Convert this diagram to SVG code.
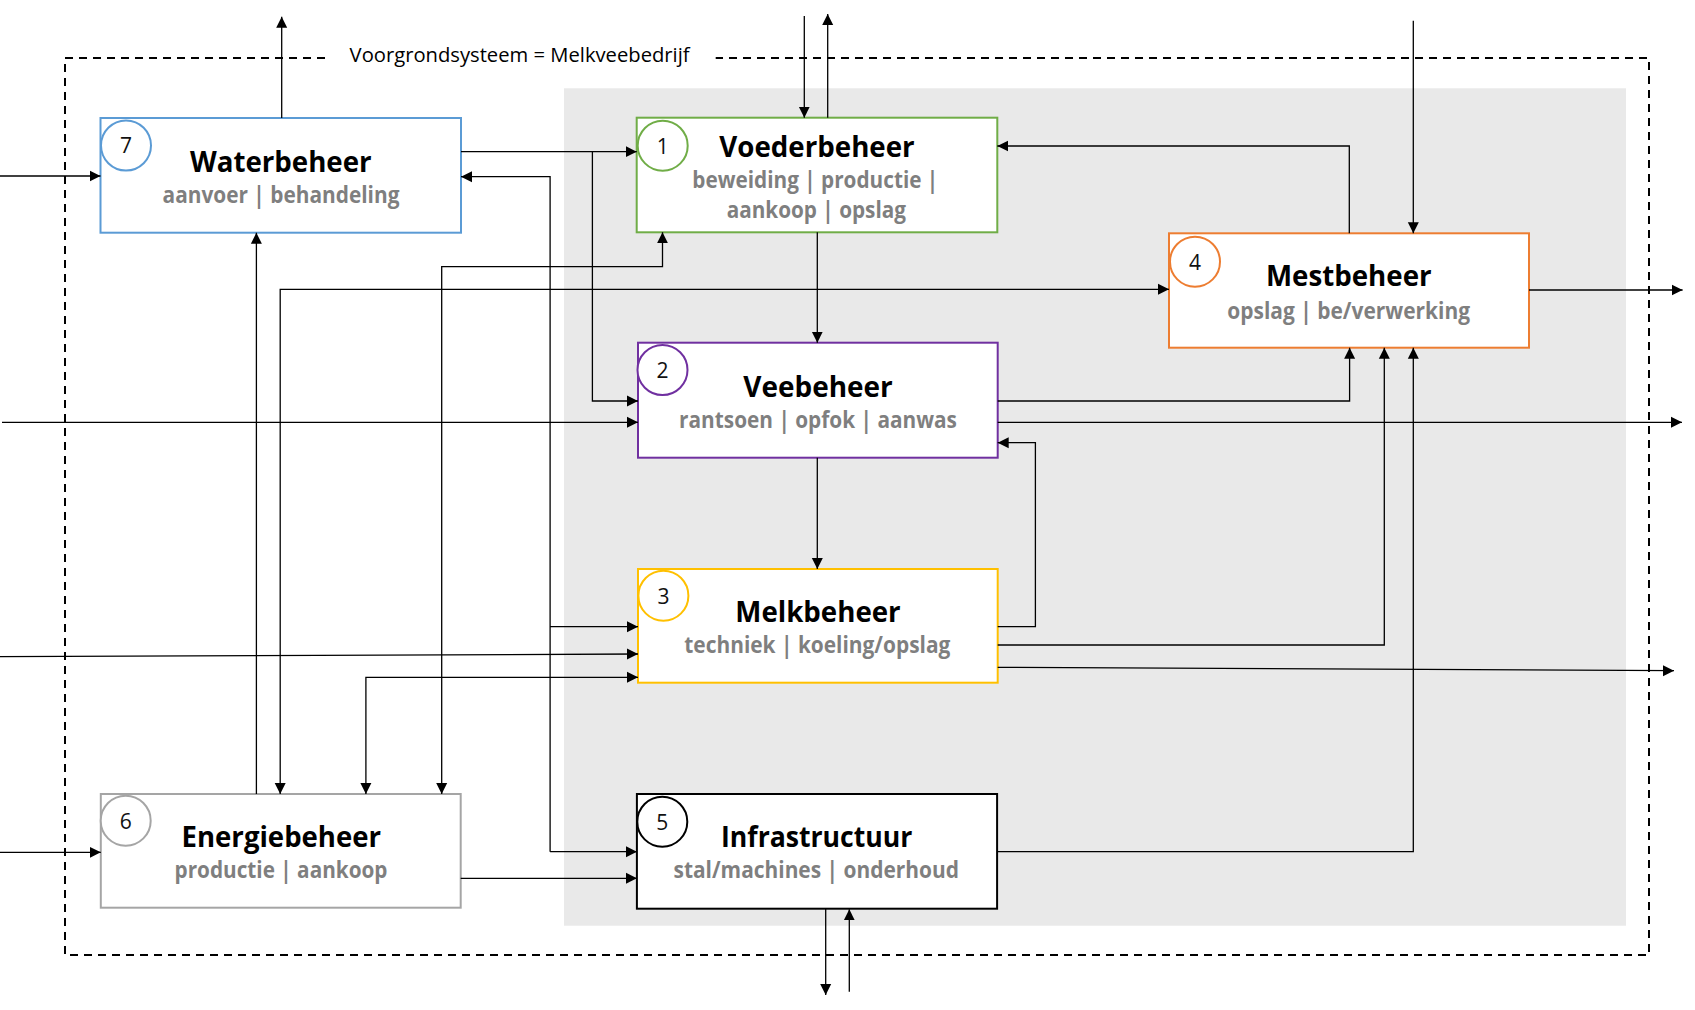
<svg xmlns="http://www.w3.org/2000/svg" width="1695" height="1010" viewBox="0 0 1695 1010">
<defs>
<style>
text{font-family:"Open Sans","Liberation Sans",sans-serif}
.box{fill:#fff;stroke-width:2}
.num{font-size:21px;fill:#111;text-anchor:middle}
.ttl{font-size:28.5px;font-weight:700;fill:#000;text-anchor:middle}
.sub{font-size:23px;font-weight:700;fill:#7f7f7f;text-anchor:middle}
.hdr{font-size:20.5px;fill:#000}
#connectors path{fill:none;stroke:#000;stroke-width:1.3;marker-end:url(#ah)}
#connectors path.both{marker-start:url(#ah)}
</style>
<marker id="ah" markerUnits="userSpaceOnUse" viewBox="0 0 12 12" markerWidth="12" markerHeight="12" refX="11" refY="6" orient="auto-start-reverse">
<path d="M0,0.5 L11,6 L0,11.5 z" fill="#000"/>
</marker>
</defs>
<rect width="1695" height="1010" fill="#fff"/>
<rect id="voorgrond-kern" x="564" y="88.3" width="1062" height="837.4" fill="#e9e9e9"/>
<path id="systeemgrens" d="M325,58 H65 V955 H1649 V58 H715.7" fill="none" stroke="#000" stroke-width="2" stroke-dasharray="8 6"/>
<text class="hdr" x="349.6" y="61.5" textLength="340" lengthAdjust="spacingAndGlyphs">Voorgrondsysteem = Melkveebedrijf</text>

<g id="node-waterbeheer">
<rect class="box" x="100.5" y="118" width="360.5" height="114.7" stroke="#5b9bd5"/>
<circle cx="126" cy="145.5" r="25" fill="#fff" stroke="#5b9bd5" stroke-width="2"/>
<text class="num" x="126" y="153.3">7</text>
<text class="ttl" x="280.8" y="171.7" textLength="181.6" lengthAdjust="spacingAndGlyphs">Waterbeheer</text>
<text class="sub" x="281" y="203.3" textLength="236.9" lengthAdjust="spacingAndGlyphs">aanvoer | behandeling</text>
</g>

<g id="node-voederbeheer">
<rect class="box" x="636.7" y="117.7" width="360.6" height="114.6" stroke="#70ad47"/>
<circle cx="662.7" cy="145.7" r="25" fill="#fff" stroke="#70ad47" stroke-width="2"/>
<text class="num" x="662.7" y="153.5">1</text>
<text class="ttl" x="817" y="156.7" textLength="195.3" lengthAdjust="spacingAndGlyphs">Voederbeheer</text>
<text class="sub" x="815.3" y="188.3" textLength="246" lengthAdjust="spacingAndGlyphs">beweiding | productie |</text>
<text class="sub" x="816.3" y="218.3" textLength="179.3" lengthAdjust="spacingAndGlyphs">aankoop | opslag</text>
</g>

<g id="node-veebeheer">
<rect class="box" x="638" y="342.7" width="359.7" height="115" stroke="#7030a0"/>
<circle cx="662.5" cy="370" r="25" fill="#fff" stroke="#7030a0" stroke-width="2"/>
<text class="num" x="662.5" y="377.8">2</text>
<text class="ttl" x="818" y="396.7" textLength="149.5" lengthAdjust="spacingAndGlyphs">Veebeheer</text>
<text class="sub" x="818" y="428.3" textLength="277.8" lengthAdjust="spacingAndGlyphs">rantsoen | opfok | aanwas</text>
</g>

<g id="node-melkbeheer">
<rect class="box" x="638" y="569" width="359.7" height="113.7" stroke="#ffc000"/>
<circle cx="663.4" cy="595.7" r="25" fill="#fff" stroke="#ffc000" stroke-width="2"/>
<text class="num" x="663.4" y="603.5">3</text>
<text class="ttl" x="818" y="621.7" textLength="165.4" lengthAdjust="spacingAndGlyphs">Melkbeheer</text>
<text class="sub" x="817.3" y="653.3" textLength="266" lengthAdjust="spacingAndGlyphs">techniek | koeling/opslag</text>
</g>

<g id="node-mestbeheer">
<rect class="box" x="1169" y="233.3" width="360" height="114.4" stroke="#ed7d31"/>
<circle cx="1195" cy="261.7" r="25" fill="#fff" stroke="#ed7d31" stroke-width="2"/>
<text class="num" x="1195" y="269.5">4</text>
<text class="ttl" x="1348.8" y="285.7" textLength="165.7" lengthAdjust="spacingAndGlyphs">Mestbeheer</text>
<text class="sub" x="1348.7" y="319" textLength="242.7" lengthAdjust="spacingAndGlyphs">opslag | be/verwerking</text>
</g>

<g id="node-infrastructuur">
<rect class="box" x="636.9" y="794" width="360.2" height="114.7" stroke="#000" stroke-width="2.5"/>
<circle cx="662.3" cy="821.7" r="25" fill="#fff" stroke="#000" stroke-width="2"/>
<text class="num" x="662.3" y="829.5">5</text>
<text class="ttl" x="816.7" y="846.7" textLength="191.3" lengthAdjust="spacingAndGlyphs">Infrastructuur</text>
<text class="sub" x="816.2" y="878.3" textLength="285.4" lengthAdjust="spacingAndGlyphs">stal/machines | onderhoud</text>
</g>

<g id="node-energiebeheer">
<rect class="box" x="100.8" y="794" width="359.9" height="113.7" stroke="#a5a5a5"/>
<circle cx="125.7" cy="820.7" r="25" fill="#fff" stroke="#a5a5a5" stroke-width="2"/>
<text class="num" x="125.7" y="828.5">6</text>
<text class="ttl" x="281.3" y="846.7" textLength="199.5" lengthAdjust="spacingAndGlyphs">Energiebeheer</text>
<text class="sub" x="281" y="878.3" textLength="213" lengthAdjust="spacingAndGlyphs">productie | aankoop</text>
</g>

<g id="connectors">
<path d="M281.7,118 V16.7"/>
<path d="M804.3,16 V117.7"/>
<path d="M827.7,117.7 V14"/>
<path d="M1413.3,20.7 V233.3"/>
<path d="M0,176 H100.5"/>
<path d="M2,422.3 H638"/>
<path d="M0,656.7 L638,654"/>
<path d="M0,852.3 H100.8"/>
<path d="M461,151.7 H636.7"/>
<path d="M592.4,151.7 V401 H638"/>
<path d="M550.1,851.7 V176.7 H461"/>
<path d="M550.1,626.7 H638"/>
<path d="M550.1,851.7 H636.9"/>
<path class="both" d="M441.7,794 V266.7 H662.5 V232.3"/>
<path class="both" d="M280.2,794 V289.3 H1169"/>
<path d="M256.4,794 V232.7"/>
<path d="M817.3,232.3 V342.7"/>
<path d="M817.3,457.7 V569"/>
<path d="M460.7,878.3 H636.9"/>
<path class="both" d="M365.9,794 V677.3 H638"/>
<path d="M1349.3,233.3 V146 H997.3"/>
<path d="M1529,290 H1682.6"/>
<path d="M997.7,401 H1349.6 V347.7"/>
<path d="M997.7,422.3 H1682"/>
<path d="M997.7,626.7 H1035.4 V442.7 H997.7"/>
<path d="M997.7,645 H1384.3 V347.7"/>
<path d="M997.7,667.3 L1674,670.7"/>
<path d="M997.1,851.7 H1413.3 V347.7"/>
<path d="M825.7,909 V995"/>
<path d="M849.3,991.7 V909.3"/>
</g>
</svg>
